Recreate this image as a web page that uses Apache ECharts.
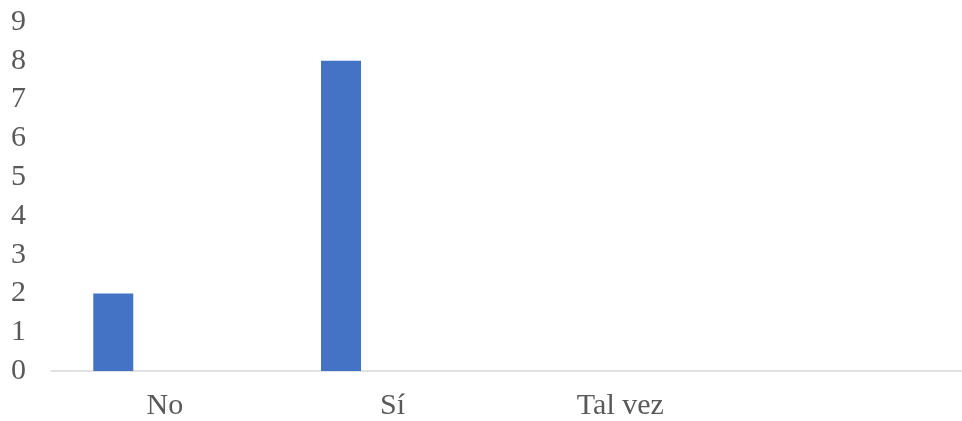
<!DOCTYPE html>
<html><head><meta charset="utf-8">
<script src="https://cdn.jsdelivr.net/npm/echarts@6/dist/echarts.min.js"></script>
<style>html,body{margin:0;padding:0;background:#fff}#c{width:962px;height:421px}</style>
</head><body><div id="c"></div>
<script>
const categories = ['No', 'Sí', 'Tal vez', ''];
const seriesA = [2, 8, 0, 0];
const seriesB = [0, 0, 0, 0];
const seriesC = [0, 0, 0, 0];
const yTicks = [0, 1, 2, 3, 4, 5, 6, 7, 8, 9];

const chart = echarts.init(document.getElementById('c'));
const font = 'Liberation Serif';
chart.setOption({
  animation: false,
  grid: { left: 51, width: 926, top: 22, height: 352 },
  xAxis: {
    type: 'category', data: categories,
    axisLine: { lineStyle: { color: '#d9d9d9', width: 1.5 } },
    axisTick: { show: false },
    axisLabel: { color: '#595959', fontFamily: font, fontSize: 30, margin: 20 }
  },
  yAxis: {
    type: 'value', min: yTicks[0], max: yTicks[yTicks.length - 1], interval: 1,
    axisLine: { show: false }, axisTick: { show: false }, splitLine: { show: false },
    axisLabel: { color: '#595959', fontFamily: font, fontSize: 30, margin: 25 }
  },
  series: [
    { type: 'bar', data: seriesA, barWidth: 40, barGap: '29%', itemStyle: { color: '#4472C4' } },
    { type: 'bar', data: seriesB, barWidth: 40, barGap: '29%', itemStyle: { color: '#ED7D31' } },
    { type: 'bar', data: seriesC, barWidth: 40, barGap: '29%', itemStyle: { color: '#A5A5A5' } }
  ]
});
</script></body></html>
